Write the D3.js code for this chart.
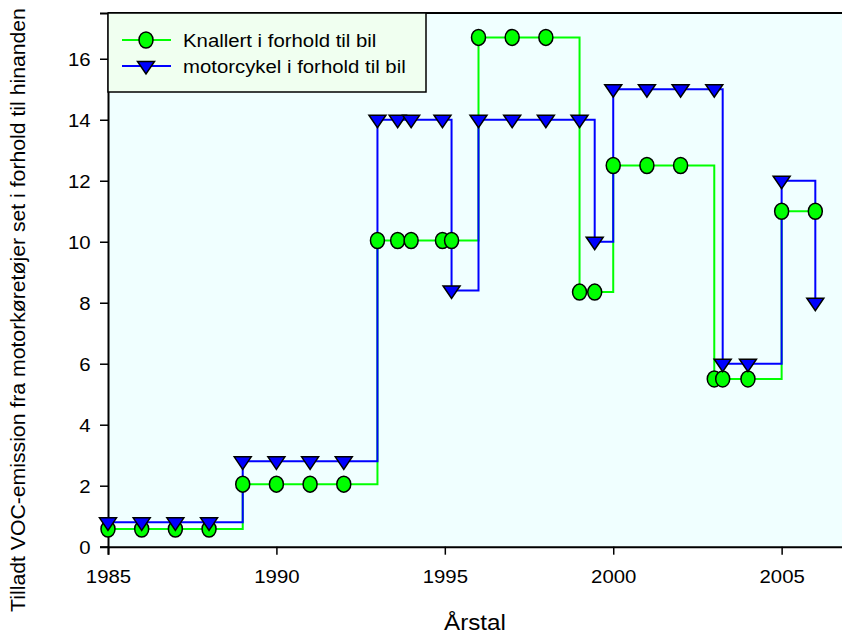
<!DOCTYPE html>
<meta charset='utf-8'>
<style>
body {
    margin: 0;
    background: #fff;
}

svg {
    display: block;
    font-family: 'Liberation Sans', Arial, sans-serif;
}
</style>

<body>
    <div class='chart'></div>
    <script src='https://d3js.org/d3.v7.min.js'></script>
    <script>
    // aarstal (samme x for begge serier)
    var years = [1985, 1986, 1987, 1988, 1989, 1990, 1991, 1992,
        1993, 1993.6, 1994, 1994.93, 1995.2, 1996, 1997, 1998,
        1999, 1999.45, 2000, 2001, 2002, 2003, 2003.25, 2004, 2005, 2006];
    var knallert = [0.58, 0.58, 0.58, 0.58, 2.05, 2.05, 2.05, 2.05,
        10.04, 10.04, 10.04, 10.04, 10.04, 16.7, 16.7, 16.7,
        8.35, 8.35, 12.5, 12.5, 12.5, 5.5, 5.5, 5.5, 11, 11];
    var motorcykel = [0.8, 0.8, 0.8, 0.8, 2.8, 2.8, 2.8, 2.8,
        14, 14, 14, 14, 8.4, 14, 14, 14,
        14, 10, 15, 15, 15, 15, 6, 6, 12, 8];
    var seriesNames = ['Knallert i forhold til bil', 'motorcykel i forhold til bil'];
    var xTicks = [1985, 1990, 1995, 2000, 2005];
    var yTicks = [0, 2, 4, 6, 8, 10, 12, 14, 16];

    var width = 842,
        height = 635;
    var plotLeft = 108, plotTop = 13, plotBottom = 546.7;
    var stretch = 'scale(1.1,1)';

    var x = d3.scaleLinear().domain([1985, 2007]).range([plotLeft, 849]);
    var y = d3.scaleLinear().domain([0, 17.5]).range([plotBottom, plotTop]);

    var svg = d3.select('.chart').append('svg')
        .attr('width', width)
        .attr('height', height);

    svg.append('rect')
        .attr('x', plotLeft).attr('y', plotTop)
        .attr('width', width - plotLeft).attr('height', plotBottom - plotTop)
        .attr('fill', '#f0ffff');

    svg.append('line')
        .attr('x1', plotLeft).attr('x2', width)
        .attr('y1', plotTop).attr('y2', plotTop)
        .attr('stroke', '#000').attr('stroke-width', 2);

    // akser
    var xAxis = svg.append('g')
        .attr('transform', 'translate(0,' + plotBottom + ')')
        .call(d3.axisBottom(x).tickValues(xTicks).tickSize(8).tickFormat(d3.format('d')));
    xAxis.selectAll('text')
        .attr('y', 36.5).attr('dy', 0)
        .attr('transform', stretch);

    var yAxis = svg.append('g')
        .attr('transform', 'translate(' + plotLeft + ',0)')
        .call(d3.axisLeft(y).tickValues(yTicks).tickSize(8));
    yAxis.selectAll('text')
        .attr('x', -17.5 / 1.1).attr('dy', '0.35em')
        .attr('transform', stretch);

    svg.selectAll('.tick line').attr('stroke-width', 1.5);
    svg.selectAll('.domain').attr('stroke-width', 2);
    svg.selectAll('.tick text').attr('font-size', 18.5).attr('fill', '#000')
        .attr('font-family', "'Liberation Sans', Arial, sans-serif");

    // trappe-linjer
    function stepLine(values) {
        return d3.line()
            .x(function(d, i) { return x(years[i]); })
            .y(function(d) { return y(d); })
            .curve(d3.curveStepAfter)(values);
    }

    svg.append('path')
        .attr('d', stepLine(knallert))
        .attr('fill', 'none').attr('stroke', '#00ff00').attr('stroke-width', 2);
    svg.append('path')
        .attr('d', stepLine(motorcykel))
        .attr('fill', 'none').attr('stroke', '#0000ff').attr('stroke-width', 2);

    var tri = 'M-8.5,-4.5L8.5,-4.5L0,8Z';

    svg.selectAll('.dot-k')
        .data(knallert)
        .enter().append('ellipse')
        .attr('cx', function(d, i) { return x(years[i]); })
        .attr('cy', function(d) { return y(d); })
        .attr('rx', 7).attr('ry', 8)
        .attr('fill', '#00ff00').attr('stroke', '#000').attr('stroke-width', 1.5);

    svg.selectAll('.dot-m')
        .data(motorcykel)
        .enter().append('path')
        .attr('d', tri)
        .attr('transform', function(d, i) { return 'translate(' + x(years[i]) + ',' + y(d) + ')'; })
        .attr('fill', '#0000ff').attr('stroke', '#000').attr('stroke-width', 1.5);

    // forklaring
    var legend = svg.append('g');
    legend.append('rect')
        .attr('x', plotLeft).attr('y', plotTop)
        .attr('width', 318).attr('height', 79)
        .attr('fill', '#f0fff0').attr('stroke', '#000').attr('stroke-width', 1.5);

    var rows = [
        { name: seriesNames[0], color: '#00ff00', y: 40 },
        { name: seriesNames[1], color: '#0000ff', y: 66 }
    ];
    rows.forEach(function(r, i) {
        legend.append('line')
            .attr('x1', 122).attr('x2', 171)
            .attr('y1', r.y).attr('y2', r.y)
            .attr('stroke', r.color).attr('stroke-width', 2);
        if (i === 0) {
            legend.append('ellipse')
                .attr('cx', 146).attr('cy', r.y).attr('rx', 7).attr('ry', 8)
                .attr('fill', r.color).attr('stroke', '#000').attr('stroke-width', 1.5);
        } else {
            legend.append('path')
                .attr('d', tri)
                .attr('transform', 'translate(146,' + r.y + ')')
                .attr('fill', r.color).attr('stroke', '#000').attr('stroke-width', 1.5);
        }
        legend.append('g')
            .attr('transform', 'translate(183,' + (r.y + 6.5) + ')')
            .append('text')
            .attr('transform', stretch)
            .attr('font-size', 18.5)
            .text(r.name);
    });

    // aksetitler
    svg.append('g')
        .attr('transform', 'translate(475,630)')
        .append('text')
        .attr('transform', stretch)
        .attr('text-anchor', 'middle')
        .attr('font-size', 22)
        .text('Årstal');

    svg.append('g')
        .attr('transform', 'translate(25,310) rotate(-90)')
        .append('text')
        .attr('transform', stretch)
        .attr('text-anchor', 'middle')
        .attr('font-size', 19.3)
        .text('Tilladt VOC-emission fra motorkøretøjer set i forhold til hinanden');
    </script>
</body>
